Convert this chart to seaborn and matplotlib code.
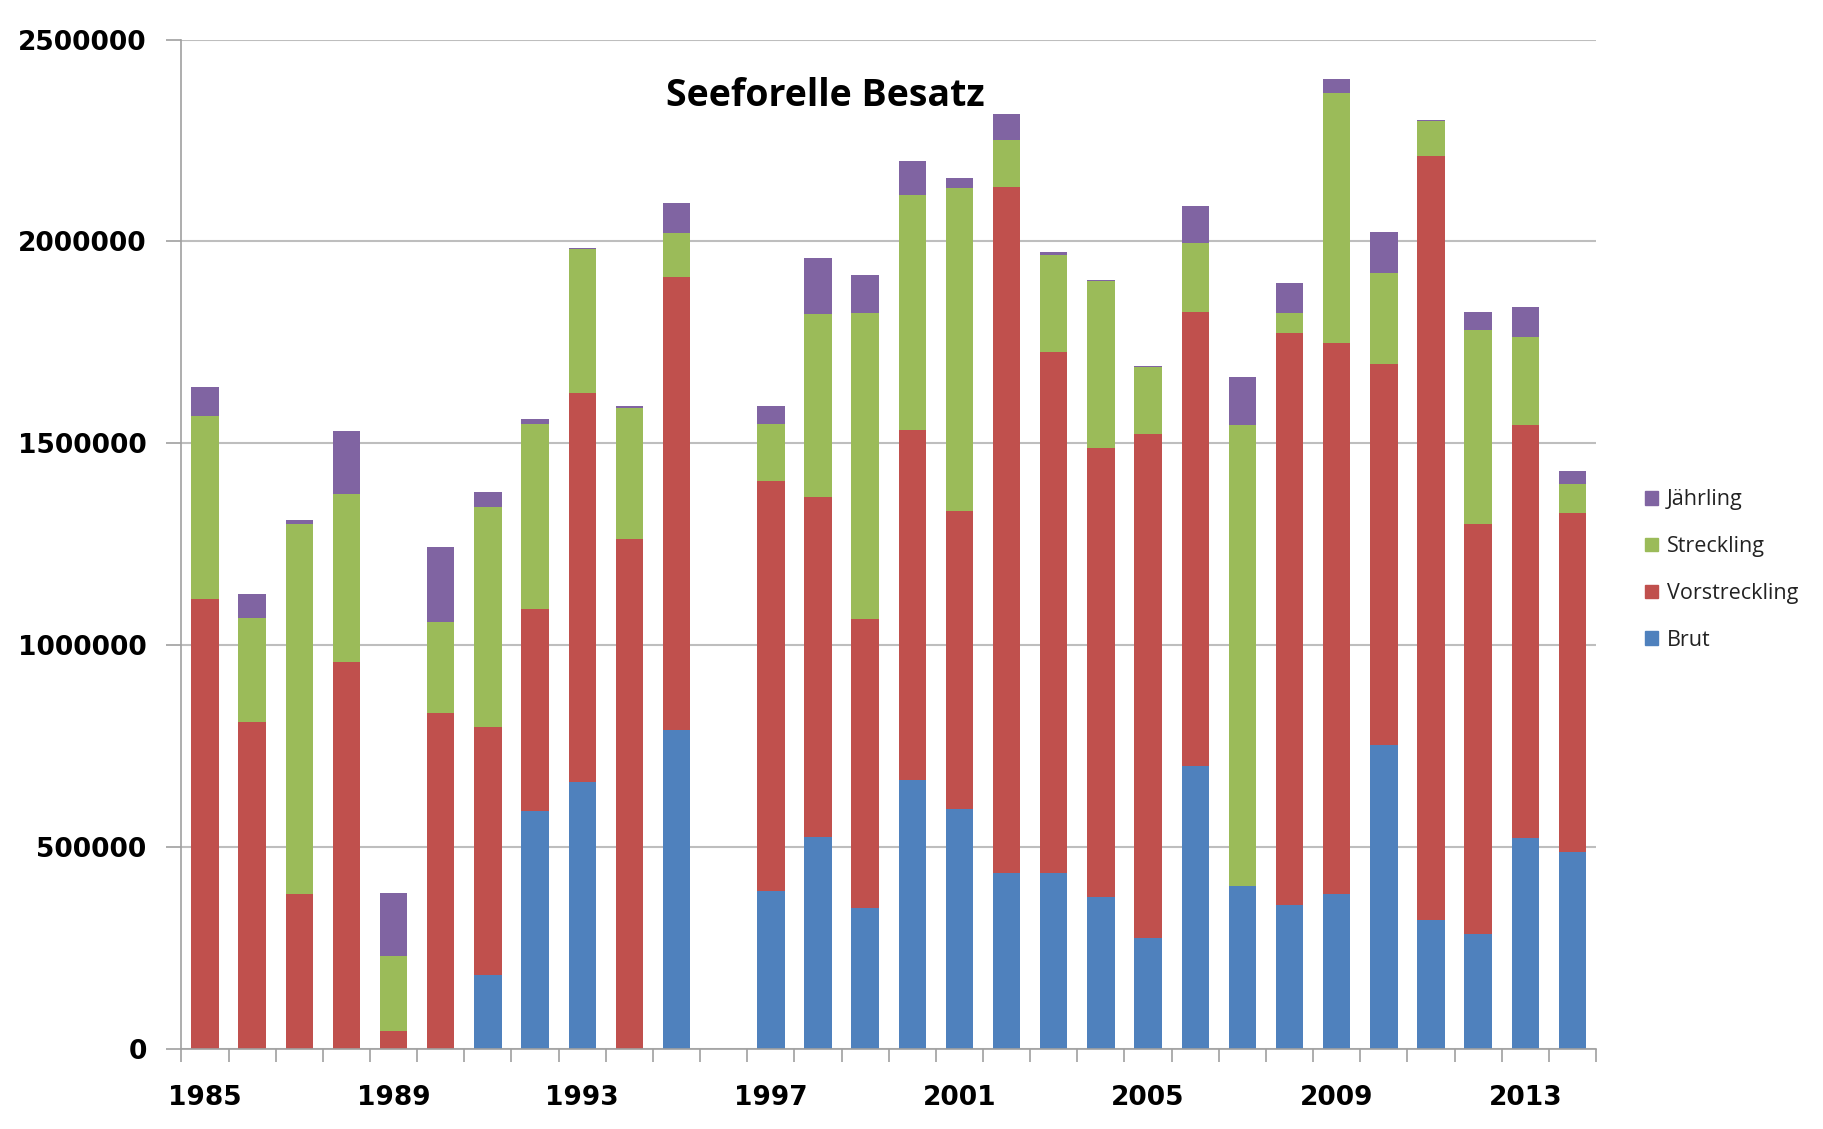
import numpy as np
import pandas as pd
import matplotlib
matplotlib.use("Agg")
import matplotlib.pyplot as plt
import seaborn as sns
from matplotlib.patches import Patch

years = [str(y) for y in range(1985, 2015)]

# values per year (1996 had no stocking)
brut = [0, 0, 0, 0, 0, 0, 184000, 590000, 662000, 0, 789000, 0,
        392000, 524000, 348000, 665000, 593000, 435000, 435000, 377000,
        274000, 700000, 403000, 357000, 383000, 752000, 320000, 285000,
        521000, 487000]
vorstreckling = [1114000, 809000, 383000, 959000, 43000, 832000, 614000, 499000, 962000, 1264000, 1123000, 0,
                 1014000, 844000, 717000, 867000, 738000, 1699000, 1290000, 1112000,
                 1250000, 1126000, 0, 1417000, 1365000, 945000, 1892000, 1014000,
                 1023000, 841000]
streckling = [453000, 259000, 916000, 415000, 187000, 225000, 544000, 458000, 357000, 323000, 109000, 0,
              141000, 452000, 757000, 582000, 801000, 118000, 242000, 412000,
              164000, 170000, 1141000, 49000, 619000, 225000, 86000, 481000,
              219000, 72000]
jaehrling = [72000, 58000, 11000, 156000, 156000, 187000, 37000, 12000, 3000, 6000, 75000, 0,
             46000, 138000, 95000, 86000, 26000, 63000, 6000, 3000,
             3000, 92000, 121000, 75000, 35000, 101000, 3000, 46000,
             75000, 32000]

df = pd.DataFrame({"Jahr": years, "Brut": brut, "Vorstreckling": vorstreckling,
                   "Streckling": streckling, "Jährling": jaehrling})
df["c_brut"] = df["Brut"]
df["c_vor"] = df["c_brut"] + df["Vorstreckling"]
df["c_str"] = df["c_vor"] + df["Streckling"]
df["c_jae"] = df["c_str"] + df["Jährling"]

colors = {"Brut": "#4F81BD", "Vorstreckling": "#C0504D",
          "Streckling": "#9BBB59", "Jährling": "#8064A2"}

sns.set_theme(style="white")
plt.rcParams["font.family"] = ["DejaVu Sans"]

fig = plt.figure(figsize=(18.23, 11.29), dpi=100)
ax = fig.add_axes([0.0995, 0.071, 0.776, 0.894])

# stacked bars drawn as overlapping cumulative totals
for col, name in [("c_jae", "Jährling"), ("c_str", "Streckling"),
                  ("c_vor", "Vorstreckling"), ("c_brut", "Brut")]:
    sns.barplot(data=df, x="Jahr", y=col, order=years, color=colors[name],
                saturation=1, width=0.58, ax=ax, linewidth=0)

ax.set_xlim(-0.5, len(years) - 0.5)
ax.set_ylim(0, 2500000)
ax.set_yticks(range(0, 2500001, 500000))
ax.set_yticklabels([str(v) for v in range(0, 2500001, 500000)],
                   fontsize=19, fontweight="bold", color="black")
ax.yaxis.grid(True, color="#BEBEBE", linewidth=1.5)
ax.set_axisbelow(True)
ax.tick_params(axis="y", length=11, color="#A0A0A0", width=1.2, left=True, pad=14)

major = list(range(0, len(years), 4))
ax.set_xticks(major)
ax.set_xticklabels([years[i] for i in major], fontsize=19, fontweight="bold", color="black")
ax.set_xticks(np.arange(-0.5, len(years), 1.0), minor=True)
ax.tick_params(axis="x", which="major", length=0, pad=26)
ax.tick_params(axis="x", which="minor", length=9, color="#A0A0A0", width=1.2, bottom=True)

ax.set_xlabel("")
ax.set_ylabel("")
for s in ["top", "right"]:
    ax.spines[s].set_visible(False)
ax.spines["left"].set_color("#A0A0A0")
ax.spines["bottom"].set_color("#A0A0A0")
ax.spines["left"].set_linewidth(1.2)
ax.spines["bottom"].set_linewidth(1.2)

ax.text(0.455, 0.944, "Seeforelle Besatz", transform=ax.transAxes,
        ha="center", va="center", fontsize=27, fontweight="bold",
        family="Open Sans", color="black")

handles = [Patch(color=colors[n], label=n) for n in ["Jährling", "Streckling", "Vorstreckling", "Brut"]]
fig.legend(handles=handles, loc="center left", bbox_to_anchor=(0.892, 0.495),
           frameon=False, prop={"family": "Open Sans", "size": 15.5},
           handlelength=0.6, handleheight=0.6, labelspacing=1.2, handletextpad=0.4,
           labelcolor="#222222")

fig.savefig("out.png", dpi=100)
